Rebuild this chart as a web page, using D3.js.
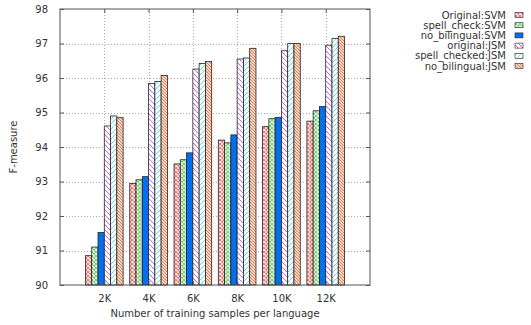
<!DOCTYPE html>
<html>
<head>
<meta charset="utf-8">
<script src="https://cdn.jsdelivr.net/npm/d3@7"></script>
<style>
  body { margin: 0; background: #fff; }
  text { font-family: "DejaVu Sans", sans-serif; fill: #333; }
</style>
</head>
<body>
<div id="chart"></div>
<script>
var categories = ["2K", "4K", "6K", "8K", "10K", "12K"];
var seriesNames = ["Original:SVM", "spell_check:SVM", "no_bilingual:SVM",
                   "original:JSM", "spell_checked:JSM", "no_bilingual:JSM"];
var originalSVM    = [90.85, 92.94, 93.51, 94.20, 94.59, 94.75];
var spellCheckSVM  = [91.10, 93.05, 93.63, 94.12, 94.82, 95.05];
var noBilingualSVM = [91.52, 93.14, 93.83, 94.35, 94.86, 95.17];
var originalJSM    = [94.61, 95.84, 96.26, 96.55, 96.79, 96.95];
var spellCheckJSM  = [94.90, 95.90, 96.42, 96.58, 97.00, 97.15];
var noBilingualJSM = [94.85, 96.07, 96.48, 96.86, 97.00, 97.21];
var yTicks = [90, 91, 92, 93, 94, 95, 96, 97, 98];

var series = [originalSVM, spellCheckSVM, noBilingualSVM, originalJSM, spellCheckJSM, noBilingualJSM];

var w = 531, h = 325;
var margin = {left: 60, right: 161, top: 9, bottom: 40};

var svg = d3.select("#chart").append("svg")
    .attr("width", w)
    .attr("height", h);

var defs = svg.append("defs");

// fill patterns, roughly like the gnuplot ones
function crossPattern(id, color) {
    var p = defs.append("pattern")
        .attr("id", id)
        .attr("patternUnits", "userSpaceOnUse")
        .attr("width", 4).attr("height", 4);
    p.append("rect").attr("width", 4).attr("height", 4).attr("fill", "#fff");
    p.append("path").attr("d", "M0,0L4,4M4,0L0,4")
        .attr("stroke", color).attr("stroke-width", 1.1);
}
function linePattern(id, color, size, dir, sw) {
    var p = defs.append("pattern")
        .attr("id", id)
        .attr("patternUnits", "userSpaceOnUse")
        .attr("width", size).attr("height", size);
    p.append("rect").attr("width", size).attr("height", size).attr("fill", "#fff");
    var d = dir > 0
        ? "M0," + size + "L" + size + ",0M-1,1L1,-1M" + (size - 1) + "," + (size + 1) + "L" + (size + 1) + "," + (size - 1)
        : "M0,0L" + size + "," + size + "M-1," + (size - 1) + "L1," + (size + 1) + "M" + (size - 1) + ",-1L" + (size + 1) + ",1";
    p.append("path").attr("d", d).attr("stroke", color).attr("stroke-width", sw);
}
crossPattern("p0", "#f07070");
crossPattern("p1", "#70d070");
linePattern("p3", "#d060f0", 5, -1, 1);
linePattern("p4", "#60e0e0", 5, 1, 1);
linePattern("p5", "#e07848", 3, -1, 1.1);

var fills = ["url(#p0)", "url(#p1)", "#0070f0", "url(#p3)", "url(#p4)", "url(#p5)"];

var x = d3.scaleLinear()
    .domain([0, 7])
    .range([margin.left, w - margin.right]);

var y = d3.scaleLinear()
    .domain([90, 98])
    .range([h - margin.bottom, margin.top]);

var barW = 0.85 / 6;

// grid
var grid = svg.append("g").attr("stroke", "#aaa").attr("stroke-dasharray", "1,2").attr("stroke-width", 1);
yTicks.slice(1, -1).forEach(function(t) {
    grid.append("line")
        .attr("x1", x(0)).attr("x2", x(7))
        .attr("y1", Math.round(y(t)) + 0.5).attr("y2", Math.round(y(t)) + 0.5);
});
categories.forEach(function(c, i) {
    grid.append("line")
        .attr("x1", Math.round(x(i + 1)) + 0.5).attr("x2", Math.round(x(i + 1)) + 0.5)
        .attr("y1", y(98)).attr("y2", y(90));
});

// bars
series.forEach(function(vals, s) {
    svg.append("g").selectAll("rect")
        .data(vals)
        .enter().append("rect")
        .attr("x", function(d, i) { return x(i + 1 - 0.425 + s * barW); })
        .attr("y", function(d) { return y(d); })
        .attr("width", x(barW) - x(0))
        .attr("height", function(d) { return y(90) - y(d); })
        .attr("fill", fills[s])
        .attr("stroke", "#222")
        .attr("stroke-width", 0.8);
});

// axes
var yAxis = d3.axisLeft(y).tickValues(yTicks).tickSize(-4).tickPadding(12);
var xAxis = d3.axisBottom(x).tickValues(d3.range(1, 7))
    .tickFormat(function(d) { return categories[d - 1]; })
    .tickSize(-4).tickPadding(10);

var gy = svg.append("g").attr("transform", "translate(" + margin.left + ",0)").call(yAxis);
var gx = svg.append("g").attr("transform", "translate(0," + (h - margin.bottom) + ")").call(xAxis);
svg.append("g").attr("transform", "translate(" + (w - margin.right) + ",0)")
    .call(d3.axisRight(y).tickValues(yTicks).tickSize(-4).tickFormat(""));
svg.append("g").attr("transform", "translate(0," + margin.top + ")")
    .call(d3.axisTop(x).tickValues(d3.range(1, 7)).tickSize(-4).tickFormat(""));

svg.selectAll(".domain").remove();
svg.selectAll(".tick line").attr("stroke", "#555");
svg.selectAll(".tick text").style("font-size", "10px").attr("fill", "#333");

svg.append("rect")
    .attr("x", x(0)).attr("y", y(98))
    .attr("width", x(7) - x(0)).attr("height", y(90) - y(98))
    .attr("fill", "none").attr("stroke", "#555").attr("stroke-width", 1);

// axis labels
svg.append("text")
    .attr("transform", "translate(17," + y(94) + ") rotate(-90)")
    .attr("text-anchor", "middle")
    .style("font-size", "10px")
    .text("F-measure");

svg.append("text")
    .attr("x", x(3.5))
    .attr("y", h - 8)
    .attr("text-anchor", "middle")
    .style("font-size", "10px")
    .text("Number of training samples per language");

// legend
var legend = svg.append("g");
seriesNames.forEach(function(name, s) {
    var ly = 15 + s * 10.2;
    legend.append("text")
        .attr("x", 506).attr("y", ly + 3.5)
        .attr("text-anchor", "end")
        .style("font-size", "10px")
        .text(name);
    legend.append("rect")
        .attr("x", 515).attr("y", ly - 2.5)
        .attr("width", 8).attr("height", 5)
        .attr("fill", fills[s])
        .attr("stroke", "#222")
        .attr("stroke-width", 0.6);
});
</script>
</body>
</html>
